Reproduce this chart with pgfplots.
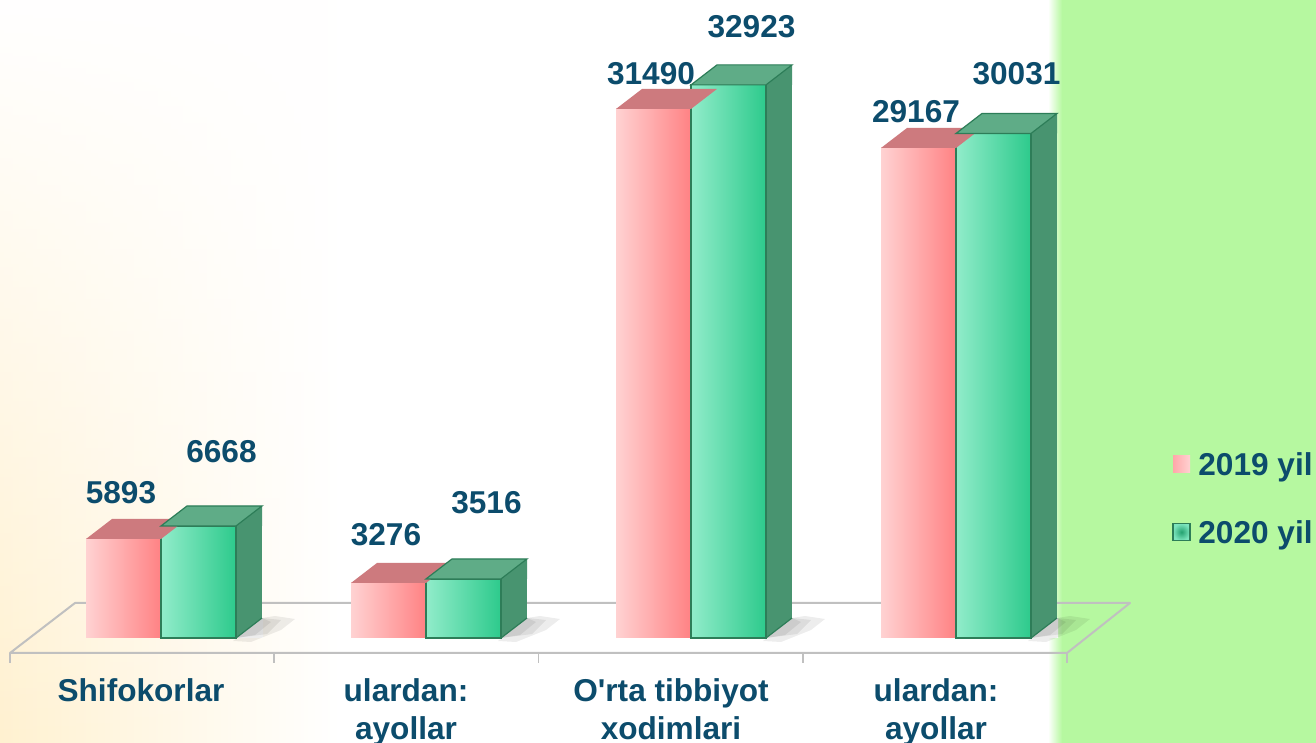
\documentclass[border=0pt]{standalone}
\usepackage{pgfplots}
\pgfplotsset{compat=1.18}
\usepackage{pgfplotstable}
\usepackage{fontspec}
\setmainfont{Liberation Sans}[Ligatures=TeXOff]
\usetikzlibrary{fadings}

\definecolor{txt}{RGB}{12,76,108}
\definecolor{cream}{RGB}{255,241,208}
\definecolor{panel}{RGB}{182,248,160}
\definecolor{floorline}{RGB}{192,192,192}
\definecolor{pinkL}{RGB}{255,210,210}
\definecolor{pinkR}{RGB}{255,130,132}
\definecolor{ptop}{RGB}{205,122,126}
\definecolor{greenL}{RGB}{145,236,202}
\definecolor{greenR}{RGB}{45,202,140}
\definecolor{gtop}{RGB}{95,172,135}
\definecolor{gside}{RGB}{72,148,112}
\definecolor{gedge}{RGB}{45,125,88}

\tikzfading[name=creamfade, bottom color=transparent!0, top color=transparent!100]

% faces of the boxes, drawn at the top (or foot) of each bar
% bar width 37.5pt, depth offset (13pt,10pt)
\pgfdeclareplotmark{ptopface}{%
  \pgfsetfillcolor{ptop}%
  \pgfpathmoveto{\pgfqpoint{-37.5pt}{0pt}}%
  \pgfpathlineto{\pgfqpoint{0pt}{0pt}}%
  \pgfpathlineto{\pgfqpoint{13pt}{10pt}}%
  \pgfpathlineto{\pgfqpoint{-24.5pt}{10pt}}%
  \pgfpathclose
  \pgfusepath{fill}}
\pgfdeclareplotmark{gtopface}{%
  \pgfsetfillcolor{gside}%
  \pgfpathmoveto{\pgfqpoint{37.5pt}{0pt}}%
  \pgfpathlineto{\pgfqpoint{50.5pt}{10pt}}%
  \pgfpathlineto{\pgfqpoint{50.5pt}{0pt}}%
  \pgfpathclose
  \pgfusepath{fill}%
  \pgfsetfillcolor{gtop}\pgfsetstrokecolor{gedge}\pgfsetlinewidth{0.6pt}%
  \pgfpathmoveto{\pgfqpoint{0pt}{0pt}}%
  \pgfpathlineto{\pgfqpoint{37.5pt}{0pt}}%
  \pgfpathlineto{\pgfqpoint{50.5pt}{10pt}}%
  \pgfpathlineto{\pgfqpoint{13pt}{10pt}}%
  \pgfpathclose
  \pgfusepath{fill,stroke}}
\pgfdeclareplotmark{gfoot}{%
  \pgfsetfillcolor{white}%
  \pgfpathmoveto{\pgfqpoint{37.5pt}{0pt}}%
  \pgfpathlineto{\pgfqpoint{51pt}{0pt}}%
  \pgfpathlineto{\pgfqpoint{51pt}{10.3pt}}%
  \pgfpathclose
  \pgfusepath{fill}%
  \pgfsetfillcolor{black}\pgfsetfillopacity{0.07}%
  \pgfpathmoveto{\pgfqpoint{36pt}{-1.5pt}}%
  \pgfpathlineto{\pgfqpoint{50.5pt}{10pt}}%
  \pgfpathlineto{\pgfqpoint{57pt}{11pt}}%
  \pgfpathlineto{\pgfqpoint{67pt}{9.5pt}}%
  \pgfpathlineto{\pgfqpoint{60pt}{4pt}}%
  \pgfpathlineto{\pgfqpoint{45pt}{-2pt}}%
  \pgfpathclose
  \pgfusepath{fill}%
  \pgfpathmoveto{\pgfqpoint{37.5pt}{0pt}}%
  \pgfpathlineto{\pgfqpoint{50.5pt}{10pt}}%
  \pgfpathlineto{\pgfqpoint{60pt}{9pt}}%
  \pgfpathlineto{\pgfqpoint{53pt}{2pt}}%
  \pgfpathclose
  \pgfusepath{fill}%
  \pgfpathmoveto{\pgfqpoint{37.5pt}{0pt}}%
  \pgfpathlineto{\pgfqpoint{50.5pt}{10pt}}%
  \pgfpathlineto{\pgfqpoint{55pt}{8pt}}%
  \pgfpathlineto{\pgfqpoint{47pt}{1.5pt}}%
  \pgfpathclose
  \pgfusepath{fill}%
  \pgfsetfillopacity{1}\pgfsetstrokecolor{gedge}\pgfsetlinewidth{0.6pt}%
  \pgfpathmoveto{\pgfqpoint{37.5pt}{0pt}}%
  \pgfpathlineto{\pgfqpoint{50.5pt}{10pt}}%
  \pgfusepath{stroke}}

\pgfplotstableread{
x y19 y20
0 5893 6668
1 3276 3516
2 31490 32923
3 29167 30031
}\datatab

\newcommand{\bigbold}{\bfseries\fontsize{15.8}{19}\selectfont}

\begin{document}
\begin{tikzpicture}
\path[use as bounding box, clip] (0,0) rectangle (658pt,371.5pt);
% background
\fill[white] (0,0) rectangle (658pt,371.5pt);
\shade[left color=cream, right color=white, path fading=creamfade] (0,0) rectangle (170pt,371.5pt);
\shade[left color=white, right color=panel] (524pt,0) rectangle (531pt,371.5pt);
\fill[panel] (531pt,0) rectangle (658pt,371.5pt);
% floor
\draw[floorline, line width=1pt, line join=round] (5pt,45pt) -- (533.5pt,45pt) -- (565pt,70pt) -- (37.5pt,70pt) -- cycle;
\foreach \i in {0,...,4} \draw[floorline, line width=0.8pt] (5pt+132.125pt*\i,45pt) -- ++(0,-5pt);

\begin{axis}[
  at={(14.25pt,52.5pt)}, anchor=south west,
  scale only axis, width=530pt, height=302.4pt,
  xmin=-0.5, xmax=3.5, ymin=0, ymax=36000,
  axis line style={draw=none}, tick style={draw=none},
  ytick=\empty, xtick={0,1,2,3},
  xticklabels={Shifokorlar, {ulardan:\\ayollar}, {O'rta tibbiyot\\xodimlari}, {ulardan:\\ayollar}},
  xticklabel style={font=\bigbold, text=txt, align=center, anchor=north, inner sep=0pt, yshift=-20pt, xshift=-10pt},
  clip=false,
]
% one plot per bar, so that each front face gets its own gradient
\pgfplotsinvokeforeach{-0.2:0.2, 0.8:1.2, 1.8:2.2, 2.8:3.2}{
  % 2019 yil
  \addplot[ybar, bar width=37.5pt, bar shift=-18.75pt, draw=none, left color=pinkL, right color=pinkR,
    restrict x to domain=#1] table[x=x, y=y19] \datatab;
  % 2020 yil
  \addplot[ybar, bar width=13pt, bar shift=44pt, draw=none, fill=gside,
    restrict x to domain=#1] table[x=x, y=y20] \datatab;
  \addplot[ybar, bar width=37.5pt, bar shift=18.75pt, draw=gedge, line width=0.6pt, left color=greenL, right color=greenR,
    restrict x to domain=#1] table[x=x, y=y20] \datatab;
}
\addplot[only marks, mark=ptopface] table[x=x, y=y19] \datatab;
\addplot[only marks, mark=gtopface] table[x=x, y=y20] \datatab;
\addplot[only marks, mark=gfoot] table[x=x, y expr=0] \datatab;
% value labels (the gap above a bar shrinks a little as the bar grows, as in the 3D original)
\addplot[draw=none, mark=none, nodes near coords, point meta=explicit symbolic,
  every node near coord/.append style={anchor=center, inner sep=0pt, xshift=-20pt, yshift=24.65pt, font=\bigbold, text=txt}]
  table[x=x, y expr=\thisrow{y19}*0.9735, meta=y19] \datatab;
\addplot[draw=none, mark=none, nodes near coords, point meta=explicit symbolic,
  every node near coord/.append style={anchor=center, inner sep=0pt, xshift=30.25pt, yshift=39.15pt, font=\bigbold, text=txt}]
  table[x=x, y expr=\thisrow{y20}*0.9642, meta=y20] \datatab;
\end{axis}

% legend
\shade[left color=pinkR!70, right color=pinkL] (586.5pt,135.25pt) rectangle (595pt,143.75pt);
\node[anchor=base west, inner sep=0pt, font=\bigbold, text=txt] at (599pt,133.8pt) {2019 yil};
\shade[inner color=greenR!80!black, outer color=greenL!80!greenR] (586.5pt,101.25pt) rectangle (595pt,109.75pt);
\draw[gedge, line width=0.6pt] (586.5pt,101.25pt) rectangle (595pt,109.75pt);
\node[anchor=base west, inner sep=0pt, font=\bigbold, text=txt] at (599pt,99.85pt) {2020 yil};
\end{tikzpicture}
\end{document}
